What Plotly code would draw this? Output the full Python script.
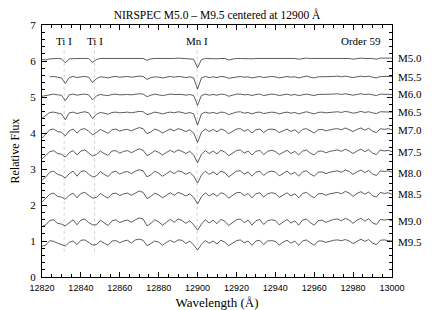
import plotly.graph_objects as go

WAVELENGTH = list(range(12820, 13001, 2))  # 91 grid points, 2 Å step

SPECTRAL_TYPES = ["M5.0", "M5.5", "M6.0", "M6.5", "M7.0", "M7.5", "M8.0", "M8.5", "M9.0", "M9.5"]
LEVELS = [6.07, 5.56, 5.07, 4.57, 4.08, 3.48, 2.90, 2.30, 1.55, 0.98]

# normalized flux in percent (2 Å steps)
M50 = [97, 96, 99, 100, 100, 99, 88, 99, 100, 99,
       100, 100, 100, 89, 97, 100, 100, 99, 100, 100,
       99, 100, 100, 100, 100, 101, 100, 95, 99, 100,
       100, 98, 100, 100, 100, 101, 100, 99, 100, 98,
       74, 97, 100, 99, 100, 99, 100, 100, 96, 99,
       100, 100, 99, 100, 99, 100, 100, 99, 100, 100,
       100, 99, 100, 101, 100, 100, 98, 100, 101, 100,
       99, 100, 100, 100, 100, 101, 101, 100, 101, 100,
       98, 100, 101, 100, 101, 100, 98, 101, 101, 101,
       101]
M55 = [None, None, 100, 101, 99, 97, 82, 98, 101, 98,
       100, 101, 99, 84, 95, 100, 99, 97, 100, 101,
       99, 100, 101, 99, 101, 102, 101, 93, 98, 100,
       99, 97, 99, 101, 99, 101, 100, 98, 100, 97,
       66, 97, 101, 98, 100, 98, 101, 100, 96, 98,
       101, 101, 99, 100, 97, 100, 101, 98, 100, 101,
       100, 97, 99, 101, 99, 100, 97, 100, 102, 99,
       97, 100, 100, 99, 100, 101, 102, 100, 102, 101,
       98, 100, 102, 100, 102, 99, 97, 101, 101, 102,
       101]
M60 = [95, 97, 100, 101, 99, 98, 83, 99, 101, 98,
       100, 101, 99, 85, 96, 100, 98, 97, 100, 101,
       99, 100, 100, 99, 101, 102, 101, 94, 98, 101,
       99, 97, 99, 101, 100, 101, 100, 98, 100, 97,
       70, 97, 101, 98, 100, 98, 101, 100, 95, 98,
       101, 101, 99, 100, 97, 100, 101, 97, 100, 101,
       100, 97, 99, 101, 98, 100, 97, 100, 101, 99,
       97, 100, 100, 99, 100, 101, 102, 100, 102, 101,
       98, 100, 102, 100, 101, 99, 97, 101, 101, 102,
       100]
M65 = [84, 93, 100, 101, 98, 96, 80, 99, 101, 97,
       100, 102, 99, 83, 95, 100, 98, 95, 100, 101,
       99, 100, 101, 99, 101, 103, 102, 94, 97, 101,
       99, 96, 99, 101, 99, 102, 100, 97, 100, 96,
       65, 96, 101, 98, 100, 97, 101, 100, 94, 98,
       101, 102, 98, 100, 96, 100, 101, 97, 100, 101,
       100, 96, 99, 101, 98, 100, 96, 100, 102, 99,
       96, 100, 101, 99, 100, 101, 102, 100, 103, 101,
       98, 100, 103, 100, 102, 99, 97, 102, 101, 102,
       101]
M70 = [78, 90, 101, 103, 96, 94, 84, 98, 103, 92,
       102, 104, 97, 87, 93, 102, 96, 91, 101, 103,
       97, 101, 102, 98, 103, 107, 104, 90, 95, 103,
       99, 92, 98, 103, 98, 104, 101, 96, 101, 92,
       66, 94, 103, 96, 102, 95, 103, 99, 90, 97,
       103, 104, 97, 102, 92, 101, 103, 93, 101, 103,
       101, 93, 99, 103, 96, 101, 92, 102, 104, 97,
       92, 101, 102, 98, 101, 103, 104, 101, 106, 102,
       96, 102, 106, 100, 105, 97, 93, 104, 102, 104,
       101]
M75 = [80, 89, 100, 103, 95, 93, 85, 97, 103, 91,
       102, 105, 96, 88, 92, 102, 95, 90, 102, 103,
       96, 101, 103, 97, 103, 108, 104, 89, 95, 103,
       98, 91, 98, 104, 98, 105, 101, 95, 101, 91,
       69, 93, 103, 95, 102, 94, 104, 99, 89, 97,
       103, 105, 96, 102, 91, 101, 104, 92, 101, 104,
       101, 92, 99, 104, 95, 101, 91, 102, 105, 96,
       91, 101, 102, 97, 101, 104, 105, 101, 107, 102,
       95, 102, 107, 100, 106, 96, 92, 105, 102, 104,
       100]
M80 = [79, 88, 101, 104, 95, 92, 85, 97, 104, 90,
       103, 105, 96, 88, 91, 103, 95, 89, 101, 104,
       96, 101, 103, 97, 104, 108, 105, 88, 94, 104,
       98, 90, 97, 104, 97, 105, 102, 95, 101, 90,
       71, 93, 104, 95, 102, 94, 104, 100, 88, 96,
       104, 105, 96, 102, 90, 101, 104, 92, 101, 104,
       102, 91, 98, 104, 95, 101, 90, 102, 105, 96,
       90, 101, 102, 97, 101, 104, 105, 101, 107, 103,
       95, 102, 107, 100, 106, 96, 92, 105, 103, 105,
       101]
M85 = [78, 88, 100, 103, 94, 92, 86, 97, 103, 90,
       102, 105, 96, 89, 91, 102, 95, 89, 101, 103,
       96, 101, 103, 97, 103, 109, 105, 88, 94, 103,
       98, 90, 97, 104, 97, 105, 101, 95, 101, 91,
       73, 93, 104, 95, 102, 94, 104, 100, 89, 96,
       104, 105, 96, 102, 90, 101, 104, 92, 101, 104,
       102, 91, 98, 104, 95, 101, 90, 102, 105, 96,
       90, 101, 102, 97, 101, 104, 105, 101, 108, 103,
       94, 102, 107, 100, 106, 96, 92, 105, 102, 104,
       100]
M90 = [85, 90, 102, 104, 94, 92, 87, 96, 104, 90,
       103, 106, 96, 90, 90, 103, 95, 88, 101, 104,
       96, 101, 103, 97, 104, 109, 106, 87, 94, 104,
       98, 89, 97, 105, 97, 106, 102, 94, 101, 90,
       75, 92, 104, 95, 103, 93, 105, 100, 88, 96,
       104, 106, 96, 103, 89, 101, 105, 91, 101, 104,
       102, 90, 98, 105, 95, 101, 89, 103, 106, 96,
       89, 101, 103, 97, 101, 105, 106, 101, 108, 103,
       94, 103, 108, 100, 107, 95, 91, 105, 103, 105,
       101]
M95 = [87, 91, 103, 101, 96, 93, 88, 98, 102, 92,
       104, 105, 97, 91, 92, 102, 96, 90, 102, 103,
       97, 102, 104, 96, 105, 107, 104, 89, 95, 102,
       99, 90, 98, 104, 98, 105, 104, 95, 102, 91,
       77, 93, 103, 96, 102, 94, 104, 99, 89, 97,
       103, 105, 97, 102, 90, 102, 104, 92, 102, 103,
       101, 91, 99, 104, 96, 102, 90, 102, 105, 97,
       90, 102, 102, 98, 102, 104, 105, 103, 106, 102,
       95, 102, 107, 101, 106, 96, 92, 104, 105, 103,
       102]
SPECTRA = [M50, M55, M60, M65, M70, M75, M80, M85, M90, M95]

LINE_NAMES = ["Ti I", "Ti I", "Mn I"]
LINE_WAVES = [12831.4, 12847.0, 12899.8]
LINE_SPAN = [0.7, 6.4]
LABEL_Y = 6.56
ORDER_LABEL = "Order 59"
ORDER_POS = 12984

X_TICKS = [12820, 12840, 12860, 12880, 12900, 12920, 12940, 12960, 12980, 13000]
Y_TICKS = [0, 1, 2, 3, 4, 5, 6, 7]

SERIF = "Liberation Serif, Times New Roman, serif"
SANS = "Liberation Sans, Arial, sans-serif"

# the page body has an 8 px default margin; size the figure so the plot lands where the reference's does
FIG_W, FIG_H = 428, 302

fig = go.Figure()

for w in LINE_WAVES:
    fig.add_trace(go.Scatter(x=[w, w], y=LINE_SPAN, mode="lines",
                             line=dict(color="#c8c8c8", width=0.8, dash="dot"),
                             hoverinfo="skip", showlegend=False))

for name, flux, lvl in zip(SPECTRAL_TYPES, SPECTRA, LEVELS):
    y = [None if f is None else f / 100.0 - 1.0 + lvl for f in flux]
    fig.add_trace(go.Scatter(x=WAVELENGTH, y=y, mode="lines", name=name,
                             line=dict(color="#333333", width=0.8),
                             connectgaps=False, showlegend=False))
    fig.add_annotation(x=13000, y=lvl, text=name, showarrow=False,
                       xanchor="left", xshift=4, yanchor="middle",
                       font=dict(family=SERIF, size=11, color="black"))

for name, w in zip(LINE_NAMES, LINE_WAVES):
    fig.add_annotation(x=w, y=LABEL_Y, text=name, showarrow=False,
                       xanchor="center", yanchor="middle",
                       font=dict(family=SERIF, size=11, color="black"))
fig.add_annotation(x=ORDER_POS, y=LABEL_Y, text=ORDER_LABEL, showarrow=False,
                   xanchor="center", yanchor="middle",
                   font=dict(family=SERIF, size=11, color="black"))

fig.update_layout(
    width=FIG_W, height=FIG_H,
    margin=dict(l=34, r=44, t=17, b=33, autoexpand=False),
    paper_bgcolor="white", plot_bgcolor="white",
    title=dict(text="NIRSPEC M5.0 – M9.5 centered at 12900 Å",
               x=0.5, xref="paper", y=1 - 7 / FIG_H, yref="container",
               xanchor="center", yanchor="middle",
               font=dict(family=SERIF, size=11.5, color="black")),
    showlegend=False,
)
fig.update_xaxes(range=[12820, 13000], tickvals=X_TICKS, tickformat="d",
                 ticks="inside", ticklen=5, tickwidth=1, tickcolor="black",
                 minor=dict(dtick=5, ticks="inside", ticklen=3, tickcolor="black"),
                 showline=True, linecolor="black", linewidth=1, mirror="allticks",
                 showgrid=False, zeroline=False, automargin=False,
                 ticklabelstandoff=2,
                 tickfont=dict(family=SANS, size=9, color="black"),
                 title=dict(text="Wavelength (Å)",
                            font=dict(family=SERIF, size=13, color="black")))
fig.update_yaxes(range=[0, 7], tickvals=Y_TICKS,
                 ticks="inside", ticklen=5, tickwidth=1, tickcolor="black",
                 minor=dict(dtick=0.2, ticks="inside", ticklen=3, tickcolor="black"),
                 showline=True, linecolor="black", linewidth=1, mirror="allticks",
                 showgrid=False, zeroline=False, automargin=False,
                 ticklabelstandoff=3,
                 tickfont=dict(family=SERIF, size=11, color="black"),
                 title=dict(text="Relative Flux",
                            font=dict(family=SERIF, size=12, color="black")))

fig.write_html("out.html")
